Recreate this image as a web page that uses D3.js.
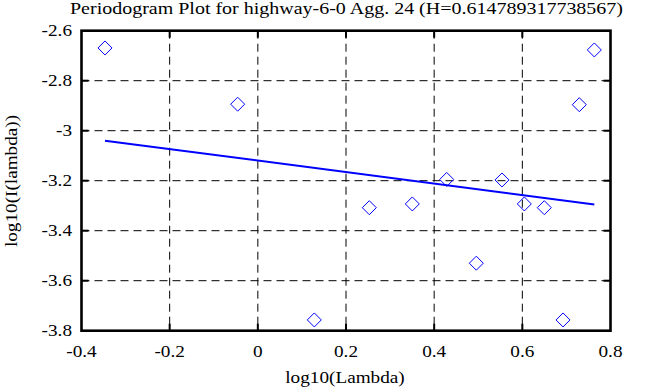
<!DOCTYPE html>
<html>
<head>
<meta charset="utf-8">
<script src="https://cdn.jsdelivr.net/npm/d3@7"></script>
<style>
  html, body { margin: 0; padding: 0; background: #fff; }
  text { font-family: "Liberation Serif", "DejaVu Serif", serif; fill: #000; }
</style>
</head>
<body>
<svg id="chart" width="663" height="387"></svg>
<script>
// ---- data ----
const titleText = "Periodogram Plot for highway-6-0 Agg. 24 (H=0.614789317738567)";
const xLabel = "log10(Lambda)";
const yLabel = "log10(I(lambda))";
const logLambda = [-0.3467, -0.0457, 0.1281, 0.2529, 0.3504, 0.4284, 0.4956, 0.5539, 0.6045, 0.6498, 0.6923, 0.7292, 0.7633];
const logI = [-2.669, -2.894, -3.757, -3.308, -3.293, -3.195, -3.530, -3.197, -3.293, -3.308, -3.757, -2.896, -2.677];
const hurst = 0.614789317738567;
const fitIntercept = -3.1196;
const xTicks = [-0.4, -0.2, 0, 0.2, 0.4, 0.6, 0.8];
const yTicks = [-3.8, -3.6, -3.4, -3.2, -3, -2.8, -2.6];
const xTickLabels = ["-0.4", "-0.2", "0", "0.2", "0.4", "0.6", "0.8"];
const yTickLabels = ["-3.8", "-3.6", "-3.4", "-3.2", "-3", "-2.8", "-2.6"];
const xDomain = [-0.4, 0.8];
const yDomain = [-3.8, -2.6];

// ---- layout ----
const svg = d3.select("#chart");
const L = 81.5, R = 610.5, T = 30.7, B = 330.7;
const x = d3.scaleLinear().domain(xDomain).range([L, R]);
const y = d3.scaleLinear().domain(yDomain).range([B, T]);
const stretch = 1.2;
function widen(sel) {
  sel.each(function () {
    const w = this.getComputedTextLength();
    d3.select(this).attr("textLength", w * stretch).attr("lengthAdjust", "spacingAndGlyphs");
  });
}

// grid
const g = svg.append("g");
g.selectAll("line.vg").data(xTicks.slice(1, -1)).join("line")
  .attr("x1", d => x(d)).attr("x2", d => x(d)).attr("y1", T).attr("y2", B)
  .attr("stroke", "#000").attr("stroke-width", 1).attr("stroke-dasharray", "8,5");
g.selectAll("line.hg").data(yTicks.slice(1, -1)).join("line")
  .attr("class", "hg")
  .attr("x1", L).attr("x2", R).attr("y1", d => y(d)).attr("y2", d => y(d))
  .attr("stroke", "#000").attr("stroke-width", 1).attr("stroke-dasharray", "8,5");

// inner ticks
const tk = 7;
const tg = svg.append("g").attr("stroke", "#000").attr("stroke-width", 2);
xTicks.slice(1, -1).forEach(d => {
  tg.append("line").attr("x1", x(d)).attr("x2", x(d)).attr("y1", B).attr("y2", B - tk);
  tg.append("line").attr("x1", x(d)).attr("x2", x(d)).attr("y1", T).attr("y2", T + tk);
});
yTicks.slice(1, -1).forEach(d => {
  tg.append("line").attr("x1", L).attr("x2", L + tk).attr("y1", y(d)).attr("y2", y(d));
  tg.append("line").attr("x1", R).attr("x2", R - tk).attr("y1", y(d)).attr("y2", y(d));
});

// frame
svg.append("rect").attr("x", L).attr("y", T).attr("width", R - L).attr("height", B - T)
  .attr("fill", "none").attr("stroke", "#000").attr("stroke-width", 2.6);

// tick labels
svg.append("g").selectAll("text").data(xTicks).join("text")
  .attr("x", d => x(d)).attr("y", 357).attr("text-anchor", "middle")
  .attr("font-size", 16).text((d, i) => xTickLabels[i]).call(widen);
svg.append("g").selectAll("text").data(yTicks).join("text")
  .attr("x", 72).attr("y", d => y(d) + 5.5).attr("text-anchor", "end")
  .attr("font-size", 16).text((d, i) => yTickLabels[i]).call(widen);

// fit line
const slope = 1 - 2 * hurst;
const xr = d3.extent(logLambda);
svg.append("path")
  .datum(xr.map(v => [v, fitIntercept + slope * v]))
  .attr("d", d3.line().x(d => x(d[0])).y(d => y(d[1])))
  .attr("stroke", "#0000ff").attr("stroke-width", 2).attr("fill", "none");

// diamonds
const pts = logLambda.map((v, i) => [v, logI[i]]);
svg.append("g").selectAll("path").data(pts).join("path")
  .attr("transform", d => `translate(${x(d[0])},${y(d[1])})`)
  .attr("d", "M0,-7L7,0L0,7L-7,0Z")
  .attr("fill", "none").attr("stroke", "#0000ff").attr("stroke-width", 1);

// titles
svg.append("text").attr("x", 346.5).attr("y", 13.5).attr("text-anchor", "middle")
  .attr("font-size", 16).text(titleText)
  .attr("textLength", 553).attr("lengthAdjust", "spacingAndGlyphs");
svg.append("text").attr("x", 345).attr("y", 382.5).attr("text-anchor", "middle")
  .attr("font-size", 16).text(xLabel).call(widen);
svg.append("text").attr("transform", "translate(17,181) rotate(-90)").attr("text-anchor", "middle")
  .attr("font-size", 16).text(yLabel).call(widen);
</script>
</body>
</html>
